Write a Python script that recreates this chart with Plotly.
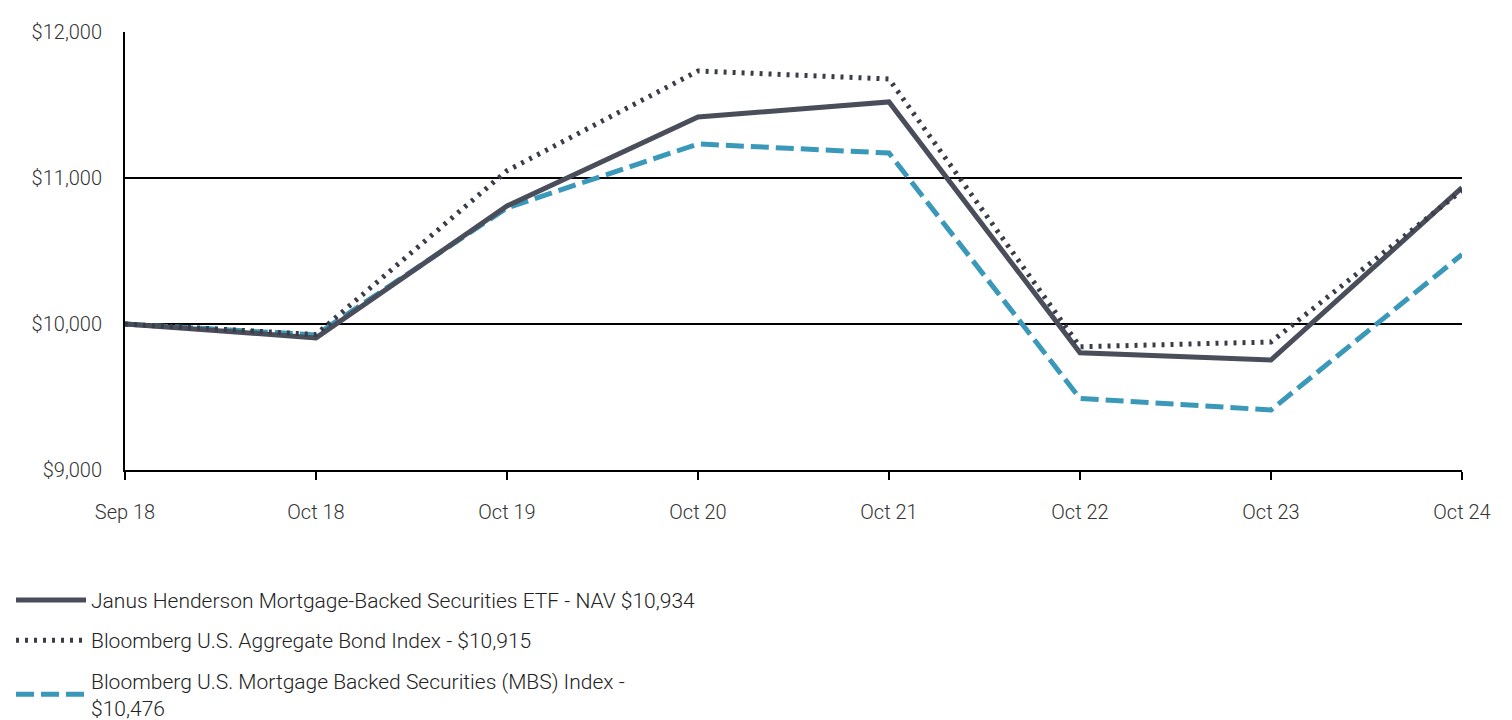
import plotly.graph_objects as go

categories = ["Sep 18", "Oct 18", "Oct 19", "Oct 20", "Oct 21", "Oct 22", "Oct 23", "Oct 24"]
fund_nav = [10000, 9905, 10808, 11418, 11521, 9803, 9753, 10934]
agg_index = [10000, 9928, 11050, 11733, 11678, 9844, 9877, 10915]
mbs_index = [10000, 9925, 10795, 11233, 11171, 9490, 9411, 10476]

names = [
    "Janus Henderson Mortgage-Backed Securities ETF - NAV $10,934",
    "Bloomberg U.S. Aggregate Bond Index - $10,915",
    "Bloomberg U.S. Mortgage Backed Securities (MBS) Index -<br>$10,476",
]
y_ticks = [9000, 10000, 11000, 12000]
y_ticktext = ["$9,000", "$10,000", "$11,000", "$12,000"]

fig = go.Figure()
fig.add_trace(go.Scatter(x=categories, y=mbs_index, mode="lines", name=names[2], legendgroup="c",
                         legendrank=3, line=dict(color="#3a98b9", width=5, dash="18px,7px")))
fig.add_trace(go.Scatter(x=categories, y=fund_nav, mode="lines", name=names[0], legendgroup="a",
                         legendrank=1, line=dict(color="#4a4d5a", width=5)))
fig.add_trace(go.Scatter(x=categories, y=agg_index, mode="lines", name=names[1], legendgroup="b",
                         legendrank=2, line=dict(color="#3a3d48", width=5, dash="3px,6px")))

fig.update_layout(
    width=1504, height=712,
    margin=dict(l=117, r=50, t=24, b=250, autoexpand=False),
    plot_bgcolor="white", paper_bgcolor="white",
    font=dict(family="Roboto", size=20, color="#333333", weight=300),
    showlegend=True,
    legend=dict(xref="container", yref="container", x=0.002, y=0.197,
                xanchor="left", yanchor="top", traceorder="grouped",
                font=dict(size=21, color="#222222", weight=300),
                itemwidth=70, tracegroupgap=10, bgcolor="rgba(0,0,0,0)"),
)
fig.update_xaxes(type="category", range=[0, 7], showgrid=False,
                 showline=True, linecolor="black", linewidth=2,
                 ticks="outside", ticklen=8, tickwidth=2, tickcolor="black",
                 ticklabelstandoff=15, tickfont=dict(size=20, color="#333333"))
fig.update_yaxes(range=[9000, 12000], tickvals=y_ticks, ticktext=y_ticktext,
                 showgrid=True, gridcolor="black", gridwidth=1.5,
                 showline=True, linecolor="black", linewidth=2,
                 zeroline=False, ticks="", ticklabelstandoff=17,
                 tickfont=dict(size=20, color="#333333"))

fig.write_html("out.html")
